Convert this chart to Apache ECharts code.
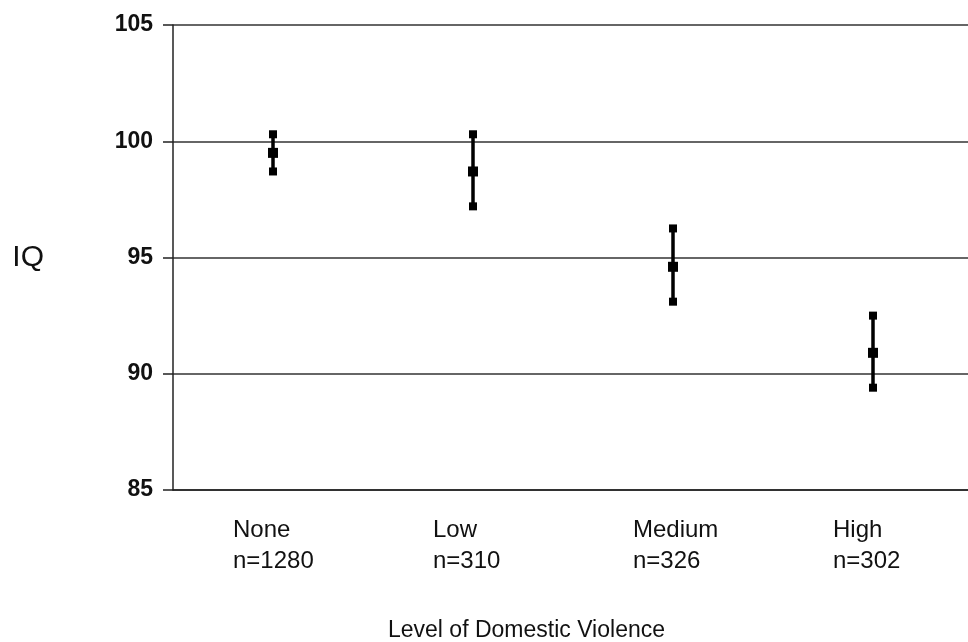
<!DOCTYPE html>
<html>
<head>
<meta charset="utf-8">
<script src="https://cdn.jsdelivr.net/npm/echarts@6/dist/echarts.min.js"></script>
<style>
  html, body { margin: 0; padding: 0; background: #fff; }
  #chart { width: 968px; height: 642px; }
</style>
</head>
<body>
<div id="chart"></div>
<script>
// categories and group sizes
var levels = ['None', 'Low', 'Medium', 'High']
var groupN = ['n=1280', 'n=310', 'n=326', 'n=302']
// IQ mean and interval ends
var iqMean = [99.5, 98.7, 94.6, 90.9]
var iqUpper = [100.3, 100.3, 96.25, 92.5]
var iqLower = [98.7, 97.2, 93.1, 89.4]
var yTicks = [85, 90, 95, 100, 105]

var font = 'Liberation Sans, Arial, sans-serif'

var barData = []
for (var i = 0; i < levels.length; i++) {
  barData.push([i, iqLower[i], iqMean[i], iqUpper[i]])
}

function renderBar(params, api) {
  var x = api.value(0)
  var lo = api.coord([x, api.value(1)])
  var mid = api.coord([x, api.value(2)])
  var hi = api.coord([x, api.value(3)])
  var s = 8 // end marker size
  var m = 10 // mean marker size
  return {
    type: 'group',
    children: [
      { type: 'line', shape: { x1: hi[0], y1: hi[1], x2: lo[0], y2: lo[1] }, style: { stroke: '#000', lineWidth: 3.5 } },
      { type: 'rect', shape: { x: hi[0] - s / 2, y: hi[1] - s / 2, width: s, height: s }, style: { fill: '#000' } },
      { type: 'rect', shape: { x: lo[0] - s / 2, y: lo[1] - s / 2, width: s, height: s }, style: { fill: '#000' } },
      { type: 'rect', shape: { x: mid[0] - m / 2, y: mid[1] - m / 2, width: m, height: m }, style: { fill: '#000' } }
    ]
  }
}

var chart = echarts.init(document.getElementById('chart'))
chart.setOption({
  backgroundColor: '#fff',
  animation: false,
  title: {
    text: 'Level of Domestic Violence',
    left: 383,
    top: 614,
    textStyle: { fontFamily: font, fontSize: 23, fontWeight: 'normal', color: '#111' }
  },
  grid: { left: 173, right: -5, top: 25, bottom: 152, outerBoundsMode: 'none', containLabel: false },
  xAxis: {
    type: 'category',
    data: levels,
    axisLine: { lineStyle: { color: '#222', width: 1.5 } },
    axisTick: { show: false },
    axisLabel: {
      margin: 25,
      formatter: function(val, idx) {
        return '{a|' + val + '}\n{a|' + groupN[idx] + '}'
      },
      rich: {
        a: { width: 80, align: 'left', fontFamily: font, fontSize: 24, lineHeight: 31, color: '#111' }
      }
    }
  },
  yAxis: {
    type: 'value',
    min: yTicks[0],
    max: yTicks[yTicks.length - 1],
    interval: 5,
    name: 'IQ',
    nameLocation: 'middle',
    nameRotate: 0,
    nameGap: 129,
    nameTextStyle: { fontFamily: font, fontSize: 30, color: '#111' },
    axisLine: { show: true, lineStyle: { color: '#222', width: 1.5 } },
    axisTick: { show: true, length: 10, lineStyle: { color: '#222', width: 1.5 } },
    axisLabel: { margin: 20, fontFamily: font, fontSize: 23, fontWeight: 'bold', color: '#111' },
    splitLine: { lineStyle: { color: '#333', width: 1.5 } }
  },
  series: [
    {
      type: 'custom',
      renderItem: renderBar,
      data: barData,
      encode: { x: 0, y: [1, 2, 3] }
    }
  ]
})
</script>
</body>
</html>
